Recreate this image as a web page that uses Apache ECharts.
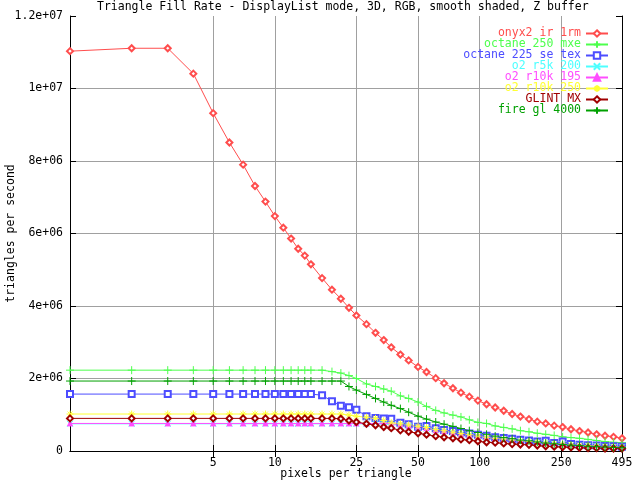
<!DOCTYPE html>
<html><head><meta charset="utf-8">
<script src="https://cdn.jsdelivr.net/npm/echarts@6/dist/echarts.min.js"></script>
<style>html,body{margin:0;padding:0;background:#fff}#c{width:640px;height:480px}</style>
</head><body><div id="c"></div>
<script>
// x: pixels per triangle
const xValues = [1,2,3,4,5,6,7,8,9,10,11,12,13,14,15,17,19,21,23,25,28,31,34,37,41,45,50,55,61,67,74,81,89,98,108,119,131,144,158,174,191,210,231,254,279,307,338,372,409,450,495];
// y: triangles per second, in millions
const onyx2ir1rm = [11.03,11.11,11.11,10.41,9.32,8.51,7.90,7.31,6.88,6.48,6.16,5.86,5.58,5.39,5.15,4.77,4.45,4.20,3.95,3.74,3.50,3.26,3.06,2.86,2.66,2.50,2.32,2.18,2.01,1.87,1.73,1.61,1.50,1.39,1.29,1.20,1.11,1.02,0.95,0.88,0.81,0.76,0.70,0.66,0.60,0.55,0.51,0.46,0.42,0.39,0.35];
const octane250mxe = [2.23,2.23,2.23,2.23,2.23,2.23,2.23,2.23,2.23,2.23,2.23,2.23,2.23,2.23,2.23,2.23,2.19,2.15,2.08,2.00,1.85,1.78,1.71,1.65,1.52,1.45,1.35,1.23,1.12,1.05,0.99,0.94,0.86,0.79,0.76,0.69,0.65,0.61,0.56,0.53,0.49,0.46,0.43,0.39,0.37,0.35,0.32,0.29,0.26,0.24,0.23];
const octane225setex = [1.57,1.57,1.57,1.57,1.57,1.57,1.57,1.57,1.57,1.57,1.57,1.57,1.57,1.57,1.57,1.54,1.37,1.25,1.21,1.14,0.96,0.91,0.90,0.89,0.78,0.74,0.67,0.69,0.63,0.58,0.55,0.52,0.48,0.45,0.42,0.38,0.36,0.34,0.31,0.29,0.26,0.28,0.22,0.26,0.19,0.17,0.16,0.15,0.14,0.13,0.12];
const o2r5k200 = [0.75,0.75,0.75,0.75,0.75,0.75,0.75,0.75,0.75,0.75,0.75,0.75,0.75,0.75,0.75,0.75,0.75,0.75,0.75,0.75,0.75,0.75,0.74,0.73,0.71,0.68,0.65,0.62,0.57,0.54,0.50,0.46,0.43,0.40,0.37,0.34,0.31,0.29,0.27,0.25,0.23,0.21,0.19,0.18,0.16,0.15,0.14,0.13,0.12,0.11,0.10];
const o2r10k195 = [0.76,0.76,0.76,0.76,0.76,0.76,0.76,0.76,0.76,0.76,0.76,0.76,0.76,0.76,0.76,0.76,0.76,0.76,0.76,0.76,0.76,0.76,0.76,0.75,0.73,0.70,0.67,0.63,0.58,0.55,0.51,0.47,0.44,0.41,0.38,0.35,0.32,0.30,0.27,0.25,0.23,0.21,0.19,0.18,0.16,0.15,0.14,0.13,0.12,0.11,0.10];
const o2r10k250 = [1.02,1.02,1.02,1.02,1.02,1.02,1.02,1.02,1.02,1.02,1.02,1.02,1.02,1.02,1.02,1.02,1.02,1.02,0.99,0.96,0.93,0.90,0.84,0.78,0.75,0.72,0.68,0.65,0.59,0.56,0.52,0.48,0.45,0.41,0.38,0.35,0.33,0.30,0.28,0.26,0.24,0.22,0.20,0.19,0.17,0.16,0.15,0.14,0.13,0.12,0.11];
const glintMX = [0.90,0.90,0.90,0.90,0.90,0.90,0.90,0.90,0.90,0.90,0.90,0.90,0.90,0.90,0.90,0.90,0.90,0.89,0.84,0.80,0.75,0.71,0.66,0.63,0.57,0.53,0.49,0.45,0.41,0.38,0.35,0.32,0.30,0.27,0.24,0.23,0.21,0.19,0.18,0.17,0.15,0.13,0.12,0.11,0.10,0.09,0.08,0.08,0.07,0.07,0.07];
const fireGl4000 = [1.93,1.93,1.93,1.93,1.93,1.93,1.93,1.93,1.93,1.93,1.93,1.93,1.93,1.93,1.93,1.93,1.93,1.93,1.78,1.68,1.56,1.45,1.35,1.26,1.17,1.07,0.96,0.88,0.80,0.74,0.68,0.62,0.56,0.51,0.46,0.41,0.37,0.34,0.30,0.28,0.25,0.22,0.20,0.18,0.16,0.15,0.13,0.12,0.11,0.10,0.09];

const seriesNames = ['onyx2 ir 1rm','octane 250 mxe','octane 225 se tex','o2 r5k 200','o2 r10k 195','o2 r10k 250','GLINT MX','fire gl 4000'];
const seriesValues = [onyx2ir1rm, octane250mxe, octane225setex, o2r5k200, o2r10k195, o2r10k250, glintMX, fireGl4000];
const xTickValues = [5,10,25,50,100,250,495];
const yTickLabels = ['0','2e+06','4e+06','6e+06','8e+06','1e+07','1.2e+07'];
const titleText = 'Triangle Fill Rate - DisplayList mode, 3D, RGB, smooth shaded, Z buffer';
const MILLION = 1e6;

const FONT = 'DejaVu Sans Mono';
const FS = 11.5;
const colors = ['#ff4d4d','#4dff4d','#4d4dff','#4dffff','#ff4dff','#ffff33','#a00000','#00a000'];
const PLUS = 'path://M5,0L5,10M0,5L10,5';
const CROSS = 'path://M0,0L10,10M10,0L0,10';
const STAR = 'path://M5,0L5,10M0,5L10,5M1.5,1.5L8.5,8.5M8.5,1.5L1.5,8.5';
const symbols = ['emptyDiamond', PLUS, 'emptyRect', CROSS, 'triangle', STAR, 'emptyDiamond', PLUS];
const sizes = [6, 8, 6, 6, 5, 7, 6, 8];
const txt = {fontFamily: FONT, fontSize: FS, color: '#000'};

const chart = echarts.init(document.getElementById('c'), null, {renderer: 'canvas'});
chart.setOption({
  animation: false,
  backgroundColor: '#fff',
  title: {text: titleText, left: 97, top: 1, padding: 0,
    textStyle: {fontFamily: FONT, fontSize: FS, fontWeight: 'normal', color: '#000'}},
  grid: {left: 70, right: 18, top: 16, bottom: 29, containLabel: false, outerBoundsMode: 'none'},
  legend: {
    orient: 'vertical', right: 31, top: 27.5, align: 'right', padding: 0,
    itemWidth: 22, itemHeight: 8, itemGap: -1, selectedMode: false,
    textStyle: {fontFamily: FONT, fontSize: FS, lineHeight: 11},
    data: seriesNames.map((n, i) => ({name: n, textStyle: {color: colors[i]}}))
  },
  xAxis: [{
    type: 'log', logBase: 10, min: 1, max: 495, position: 'bottom',
    name: 'pixels per triangle', nameLocation: 'middle', nameGap: 17.5, nameMoveOverlap: false, nameTextStyle: txt,
    axisLine: {show: true, lineStyle: {color: '#000', width: 1}},
    axisTick: {show: true, inside: true, length: 6, customValues: xTickValues, lineStyle: {color: '#000'}},
    axisLabel: {show: true, customValues: xTickValues, margin: 6, ...txt, formatter: v => String(v)},
    splitLine: {show: true, showMinLine: true, showMaxLine: false, lineStyle: {color: '#a0a0a0', width: 1}},
    minorTick: {show: false}, minorSplitLine: {show: false}
  }, {
    type: 'log', logBase: 10, min: 1, max: 495, position: 'top',
    axisLine: {show: true, lineStyle: {color: '#000', width: 1}},
    axisTick: {show: true, inside: true, length: 6, customValues: xTickValues, lineStyle: {color: '#000'}},
    axisLabel: {show: false, customValues: xTickValues},
    splitLine: {show: false}
  }],
  yAxis: [{
    type: 'value', min: 0, max: 12 * MILLION, interval: 2 * MILLION, position: 'left',
    name: 'triangles per second', nameLocation: 'middle', nameGap: 53, nameMoveOverlap: false, nameRotate: 90, nameTextStyle: txt,
    axisLine: {show: true, lineStyle: {color: '#000', width: 1}},
    axisTick: {show: true, inside: true, length: 6, lineStyle: {color: '#000'}},
    axisLabel: {margin: 7, ...txt, formatter: v => yTickLabels[Math.round(v / (2 * MILLION))]},
    splitLine: {show: true, showMinLine: false, showMaxLine: false, lineStyle: {color: '#a0a0a0', width: 1}}
  }, {
    type: 'value', min: 0, max: 12 * MILLION, interval: 2 * MILLION, position: 'right',
    axisLine: {show: true, lineStyle: {color: '#000', width: 1}},
    axisTick: {show: true, inside: true, length: 6, lineStyle: {color: '#000'}},
    axisLabel: {show: false},
    splitLine: {show: false}
  }],
  series: seriesNames.map((n, i) => ({
    name: n, type: 'line', xAxisIndex: 0, yAxisIndex: 0,
    data: xValues.map((x, j) => [x, seriesValues[i][j] * MILLION]),
    symbol: symbols[i], symbolSize: sizes[i], showAllSymbol: true,
    lineStyle: {color: colors[i], width: 1},
    itemStyle: {color: colors[i], borderColor: colors[i], borderWidth: 1},
    emphasis: {disabled: true}, silent: true
  }))
});
</script></body></html>
